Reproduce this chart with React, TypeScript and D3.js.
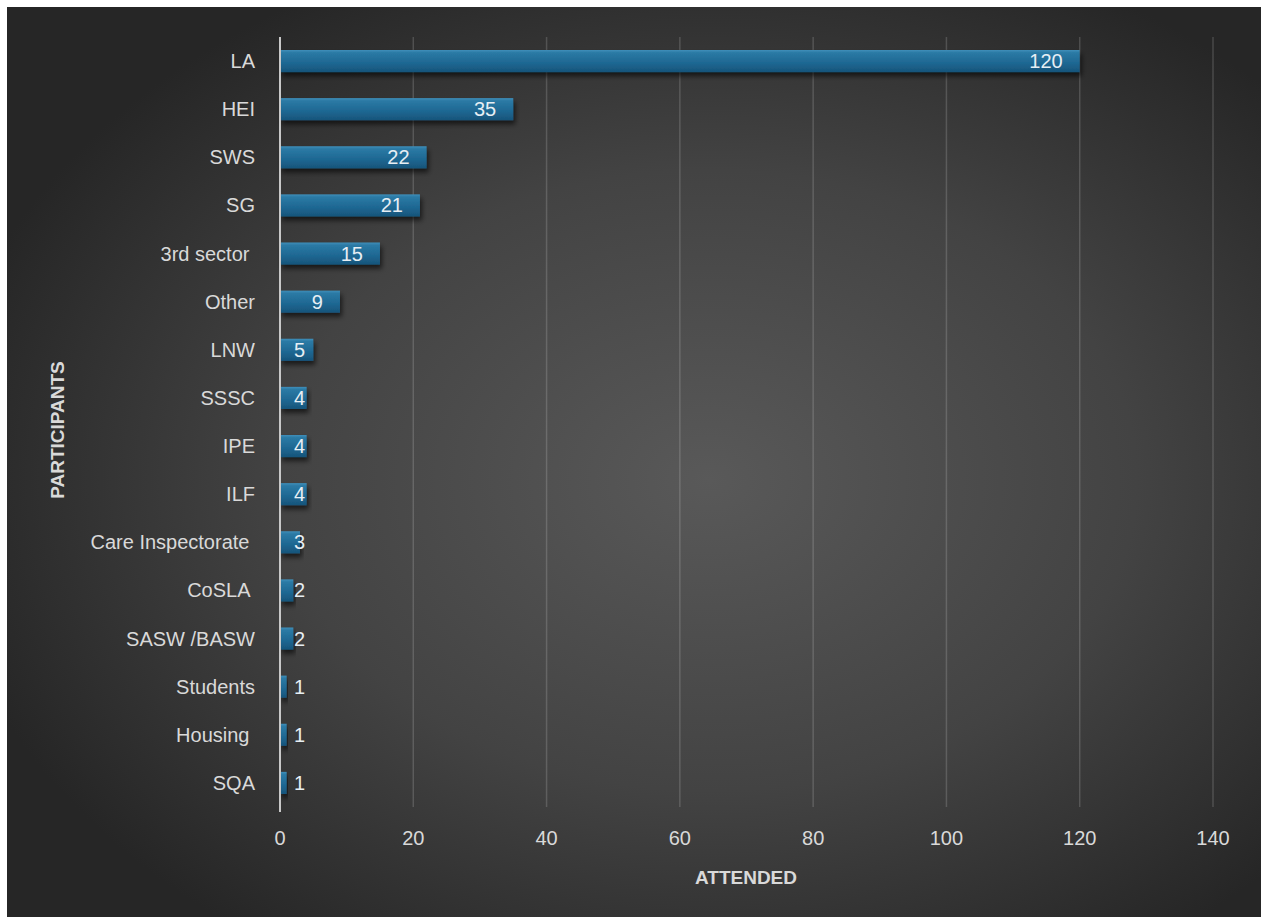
import React from "react";
import * as d3 from "d3";

const categories = ["LA", "HEI", "SWS", "SG", "3rd sector ", "Other", "LNW", "SSSC", "IPE", "ILF", "Care Inspectorate ", "CoSLA ", "SASW /BASW", "Students", "Housing ", "SQA"];
const values = [120, 35, 22, 21, 15, 9, 5, 4, 4, 4, 3, 2, 2, 1, 1, 1];
const xTicks = [0, 20, 40, 60, 80, 100, 120, 140];
const xTitle = "ATTENDED";
const yTitle = "PARTICIPANTS";

const W = 1261;
const H = 917;
const FONT = "'Liberation Sans', Arial, sans-serif";
const TEXT = "#d9d9d9";

export default function App() {
  const x = d3.scaleLinear().domain([0, 140]).range([280, 1213]);
  const y = d3.scaleBand<string>().domain(categories).range([37, 807]).paddingInner(0.54).paddingOuter(0.27);
  const bw = y.bandwidth();
  const valueFont = 20;
  const charW = valueFont * 0.556;

  return (
    <svg width={W} height={H} style={{ position: "absolute", left: 0, top: 0, display: "block" }}>
      <defs>
        <radialGradient id="bg" cx="0.56" cy="0.52" r="0.62" fx="0.56" fy="0.52">
          <stop offset="0" stopColor="#595959" />
          <stop offset="0.55" stopColor="#434343" />
          <stop offset="1" stopColor="#262626" />
        </radialGradient>
        <linearGradient id="barG" x1="0" y1="0" x2="0" y2="1">
          <stop offset="0" stopColor="#3f8fba" />
          <stop offset="0.12" stopColor="#2b7aa5" />
          <stop offset="0.6" stopColor="#1e6792" />
          <stop offset="1" stopColor="#17547a" />
        </linearGradient>
        <filter id="shadow" x="-10%" y="-50%" width="130%" height="220%">
          <feDropShadow dx="2" dy="4" stdDeviation="2.5" floodColor="#000" floodOpacity="0.6" />
        </filter>
      </defs>
      <rect x={0} y={0} width={W} height={H} fill="#ffffff" />
      <rect x={7} y={7} width={W - 7} height={H - 7} fill="url(#bg)" />

      {xTicks.filter((t) => t !== 0).map((t) => (
        <line key={t} x1={x(t)} x2={x(t)} y1={37} y2={807} stroke="#ffffff" strokeOpacity={0.16} strokeWidth={1.5} />
      ))}

      {categories.map((c, i) => (
        <rect key={c} x={x(0)} y={y(c)} width={x(values[i]) - x(0)} height={bw} fill="url(#barG)" filter="url(#shadow)" />
      ))}

      <line x1={x(0)} x2={x(0)} y1={37} y2={812} stroke="#c8c8c8" strokeWidth={2} />

      {categories.map((c, i) => {
        const v = values[i];
        const label = String(v);
        const w = label.length * charW;
        const right = Math.max(x(v) - 17, 294 + w);
        return (
          <text key={c} x={right} y={(y(c) as number) + bw / 2 + 7} textAnchor="end" fontFamily={FONT} fontSize={valueFont} fill="#e6eef4">
            {label}
          </text>
        );
      })}

      {categories.map((c) => (
        <text key={c} x={255} y={(y(c) as number) + bw / 2 + 7} textAnchor="end" fontFamily={FONT} fontSize={20} fill={TEXT} style={{ whiteSpace: "pre" }}>
          {c}
        </text>
      ))}

      {xTicks.map((t) => (
        <text key={t} x={x(t)} y={845} textAnchor="middle" fontFamily={FONT} fontSize={20} fill={TEXT}>
          {t}
        </text>
      ))}

      <text x={746} y={884} textAnchor="middle" fontFamily={FONT} fontSize={19} fontWeight="bold" fill={TEXT}>
        {xTitle}
      </text>
      <text transform={`translate(64,430) rotate(-90)`} textAnchor="middle" fontFamily={FONT} fontSize={19} fontWeight="bold" fill={TEXT}>
        {yTitle}
      </text>
    </svg>
  );
}
